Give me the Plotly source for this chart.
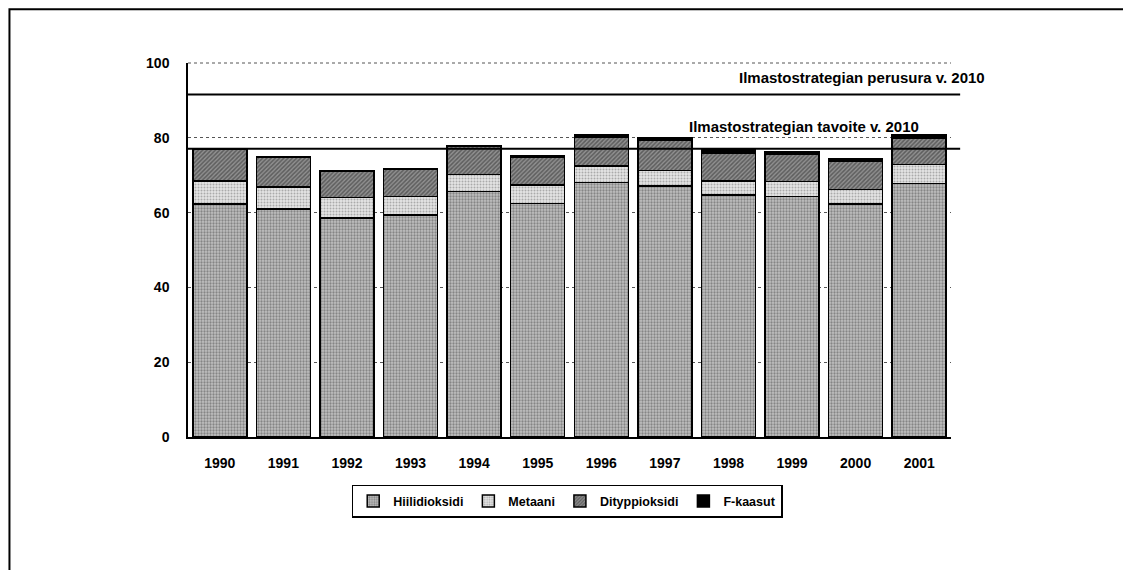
import plotly.graph_objects as go

# =============================================================================
# Data (Mt CO2-ekv.)
# =============================================================================

years = ["1990", "1991", "1992", "1993", "1994", "1995",
         "1996", "1997", "1998", "1999", "2000", "2001"]

hiilidioksidi = [62.3, 61.0, 58.6, 59.4, 65.6, 62.5, 68.0, 67.1, 64.7, 64.3, 62.3, 67.8]
metaani = [6.2, 5.8, 5.5, 4.9, 4.6, 4.9, 4.5, 4.1, 3.8, 4.0, 3.9, 5.1]
dityppioksidi = [8.4, 8.0, 7.0, 7.4, 7.6, 7.3, 7.7, 8.2, 7.5, 7.3, 7.5, 7.0]
f_kaasut = [0.1, 0.1, 0.1, 0.1, 0.2, 0.4, 0.5, 0.7, 0.7, 0.7, 0.8, 0.8]

perusura_2010 = 91.6
tavoite_2010 = 77.1

FONT = "Arial, Liberation Sans, sans-serif"

# =============================================================================
# Figure
# =============================================================================

fig = go.Figure()

series = [
    ("Hiilidioksidi", hiilidioksidi, dict(shape=".", fgcolor="#4a4a4a", bgcolor="#c0c0c0", size=3, solidity=0.45)),
    ("Metaani", metaani, dict(shape=".", fgcolor="#707070", bgcolor="#e4e4e4", size=3, solidity=0.35)),
    ("Dityppioksidi", dityppioksidi, dict(shape="/", fgcolor="#2a2a2a", bgcolor="#909090", size=3, solidity=0.5)),
    ("F-kaasut", f_kaasut, None),
]

for name, values, pattern in series:
    marker = dict(color="#000000", line=dict(color="#000000", width=1.5))
    if pattern:
        marker["pattern"] = pattern
        marker["color"] = pattern["bgcolor"]
    fig.add_trace(
        go.Bar(
            x=years,
            y=values,
            name=name,
            marker=marker,
        )
    )

# dotted line at the top of the value axis
fig.add_shape(
    type="line",
    xref="paper", yref="paper",
    x0=0, x1=1, y0=1, y1=1,
    line=dict(color="#555555", width=1, dash="dot"),
)

# reference lines for the climate strategy
for value in (perusura_2010, tavoite_2010):
    fig.add_shape(
        type="line",
        xref="paper",
        yref="y",
        x0=0,
        x1=1.012,
        y0=value,
        y1=value,
        line=dict(color="#000000", width=2),
    )

fig.add_annotation(
    text="<b>Ilmastostrategian perusura v. 2010</b>",
    xref="paper", yref="y",
    x=1.047, y=96.0,
    xanchor="right", yanchor="middle",
    showarrow=False,
    font=dict(family=FONT, size=15, color="#000000"),
)
fig.add_annotation(
    text="<b>Ilmastostrategian tavoite v. 2010</b>",
    xref="paper", yref="y",
    x=0.961, y=82.9,
    xanchor="right", yanchor="middle",
    showarrow=False,
    font=dict(family=FONT, size=15, color="#000000"),
)

# outer frame
fig.add_shape(
    type="rect",
    xref="paper", yref="paper",
    x0=-0.234, x1=1.228,
    y0=-0.45, y1=1.144,
    line=dict(color="#000000", width=2),
    layer="below",
)

fig.update_layout(
    width=1131,
    height=570,
    barmode="stack",
    bargap=0.15,
    plot_bgcolor="#ffffff",
    paper_bgcolor="#ffffff",
    font=dict(family=FONT, size=13, color="#000000"),
    margin=dict(l=180, r=188, t=55, b=141),
    showlegend=True,
    legend=dict(
        orientation="h",
        x=0.497,
        xanchor="center",
        y=-0.128,
        yanchor="top",
        bordercolor="#000000",
        borderwidth=1.5,
        font=dict(family=FONT, size=12.5, color="#000000", weight="bold"),
        traceorder="normal",
        itemwidth=30,
    ),
    xaxis=dict(
        showline=True,
        linecolor="#000000",
        linewidth=1.5,
        showgrid=False,
        ticks="",
        tickfont=dict(family=FONT, size=14, color="#000000", weight="bold"),
        ticklabelstandoff=12,
    ),
    yaxis=dict(
        range=[0, 100],
        tickvals=[0, 20, 40, 60, 80, 100],
        showline=True,
        linecolor="#000000",
        linewidth=1.5,
        showgrid=True,
        gridcolor="#555555",
        griddash="dot",
        gridwidth=1,
        zeroline=False,
        ticks="",
        tickfont=dict(family=FONT, size=14, color="#000000", weight="bold"),
        ticklabelstandoff=14,
    ),
)

fig.write_html("out.html")
